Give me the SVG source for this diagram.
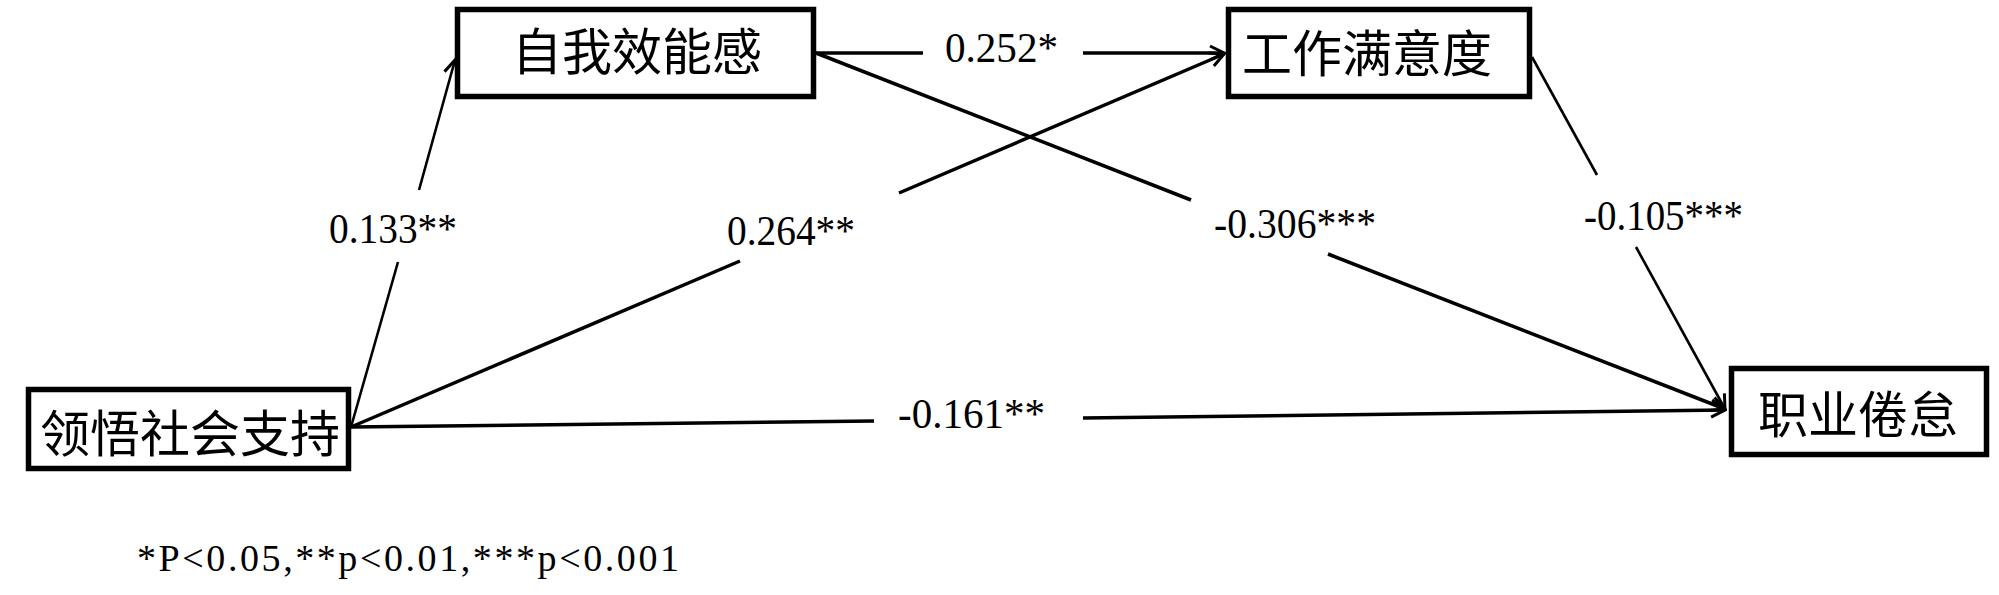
<svg xmlns="http://www.w3.org/2000/svg" width="1999" height="595" viewBox="0 0 1999 595">
<style>
.box{fill:#fff;stroke:#000;stroke-width:5.5}
.nt{font-family:"Noto Sans CJK SC","Noto Sans CJK JP",sans-serif;font-size:50px;fill:#000;text-anchor:middle}
.lb{font-family:"Liberation Serif",serif;font-size:42px;fill:#000}
.fn{font-family:"Liberation Serif",serif;font-size:38px;fill:#000}
.ln{stroke:#000;stroke-width:3.5;fill:none;stroke-linecap:butt}
.thin{stroke-width:2.6}
</style>
<defs>
<marker id="arr" markerUnits="userSpaceOnUse" markerWidth="20" markerHeight="20" viewBox="0 0 20 20" refX="18" refY="10" orient="auto">
<path d="M4,3 L18,10 L4,17" fill="none" stroke="#000" stroke-width="3"/>
</marker>
</defs>
<g id="connectors">
<line class="ln thin" x1="351" y1="427" x2="398" y2="262"/>
<line class="ln thin" x1="419" y1="190" x2="455" y2="60" marker-end="url(#arr)"/>
<line class="ln" x1="351" y1="427" x2="740" y2="261"/>
<line class="ln" x1="899" y1="193" x2="1224" y2="54" marker-end="url(#arr)"/>
<line class="ln" x1="816" y1="53" x2="1191" y2="200"/>
<line class="ln" x1="1328" y1="254" x2="1725" y2="409" marker-end="url(#arr)"/>
<line class="ln" x1="816" y1="53" x2="923" y2="53"/>
<line class="ln" x1="1083" y1="53" x2="1224" y2="53" marker-end="url(#arr)"/>
<line class="ln thin" x1="1532" y1="57" x2="1597" y2="175"/>
<line class="ln thin" x1="1636" y1="247" x2="1725" y2="409" marker-end="url(#arr)"/>
<line class="ln" x1="351" y1="427" x2="874" y2="421"/>
<line class="ln" x1="1083" y1="418" x2="1725" y2="410" marker-end="url(#arr)"/>
</g>
<g id="labels">
<text class="lb" x="329" y="243" textLength="128" lengthAdjust="spacingAndGlyphs">0.133**</text>
<text class="lb" x="727" y="245" textLength="128" lengthAdjust="spacingAndGlyphs">0.264**</text>
<text class="lb" x="945" y="62" textLength="113" lengthAdjust="spacingAndGlyphs">0.252*</text>
<text class="lb" x="1214" y="238" textLength="162" lengthAdjust="spacingAndGlyphs">-0.306***</text>
<text class="lb" x="1584" y="230" textLength="159" lengthAdjust="spacingAndGlyphs">-0.105***</text>
<text class="lb" x="898" y="428" textLength="147" lengthAdjust="spacingAndGlyphs">-0.161**</text>
<text class="fn" x="137" y="571" textLength="542">*P&lt;0.05,**p&lt;0.01,***p&lt;0.001</text>
</g>
<g id="n1"><rect class="box" x="457.5" y="9.5" width="356" height="87"/><text class="nt" x="637" y="70">自我效能感</text></g>
<g id="n2"><rect class="box" x="1228.5" y="9.5" width="301" height="87"/><text class="nt" x="1367" y="72">工作满意度</text></g>
<g id="n3"><rect class="box" x="28.5" y="389.5" width="320" height="79"/><text class="nt" x="190" y="452">领悟社会支持</text></g>
<g id="n4"><rect class="box" x="1731.5" y="368.5" width="255" height="86"/><text class="nt" x="1858" y="433">职业倦怠</text></g>
</svg>
